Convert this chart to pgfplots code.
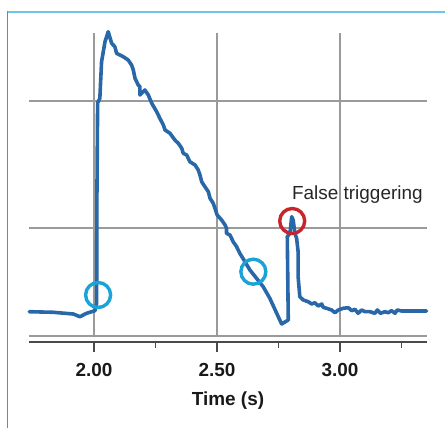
\documentclass[border=0pt]{standalone}
\usepackage{fontspec}
\setmainfont{Liberation Sans}
\usepackage{pgfplots}
\pgfplotsset{compat=1.18}
\definecolor{curve}{HTML}{2868A8}
\definecolor{cyanc}{HTML}{1AA3D6}
\definecolor{redc}{HTML}{C8242B}
\definecolor{framel}{HTML}{2A9FD8}
\definecolor{framet}{HTML}{70C4EC}
\definecolor{gridc}{HTML}{9A9A9A}
\definecolor{axisc}{HTML}{4A4A4A}
\begin{document}
\begin{tikzpicture}
\useasboundingbox (0,0) rectangle (445bp,428bp);
\draw[framet, line width=1.8bp] (7.3bp,416.3bp) -- (460bp,416.3bp);
\draw[framel, line width=1.3bp] (7.3bp,-5bp) -- (7.3bp,417.2bp);
\begin{axis}[
  at={(29bp,86bp)}, anchor=south west,
  width=398bp, height=309bp, scale only axis,
  xmin=1.736, xmax=3.354, ymin=0, ymax=309,
  axis x line=bottom, axis y line=none,
  x axis line style={-, line width=1.8bp, color=axisc},
  xtick={2,2.5,3}, minor xtick={2.25,2.75,3.25},
  xticklabels={2.00,2.50,3.00},
  tick align=outside,
  major tick length=10bp, minor tick length=6bp,
  every tick/.style={axisc, line width=1.2bp},
  /pgf/number format/assume math mode=true,
  xticklabel style={font=\fontsize{19}{22}\selectfont\bfseries, text=black!90, yshift=-8bp},
  xlabel={Time (s)},
  xlabel style={font=\fontsize{19}{22}\selectfont\bfseries, text=black!90, at={(axis description cs:0.5,0)}, anchor=base, yshift=-63bp},
  clip=false,
]
% grid
\addplot[gridc, line width=1.3bp, forget plot] coordinates {(1.736,241) (3.354,241)};
\addplot[gridc, line width=1.3bp, forget plot] coordinates {(1.736,114) (3.354,114)};
\addplot[gridc, line width=1.3bp, forget plot] coordinates {(1.736,6) (3.354,6)};
\addplot[gridc, line width=1.3bp, forget plot] coordinates {(2.0,6) (2.0,309)};
\addplot[gridc, line width=1.3bp, forget plot] coordinates {(2.5,6) (2.5,309)};
\addplot[gridc, line width=1.3bp, forget plot] coordinates {(3.0,6) (3.0,309)};
% signal
\addplot[curve, line width=3.6bp, line join=round, line cap=round] coordinates {
(1.737,30.3) (1.835,29.7) (1.916,28) (1.943,25.3) (1.970,28.7) (2.004,31.3)
(2.011,38.7) (2.012,142) (2.015,239) (2.024,243.7) (2.031,280.3) (2.038,290.3)
(2.045,300.3) (2.058,310.3) (2.072,298.7) (2.085,295.3) (2.092,288.7) (2.119,285.3)
(2.139,282) (2.153,277) (2.160,272) (2.167,263.7) (2.180,257) (2.187,255.3)
(2.187,247) (2.207,252) (2.221,247) (2.235,238.7) (2.255,230.3) (2.268,223.7)
(2.282,217) (2.289,212) (2.309,208.7) (2.329,202) (2.343,198.7) (2.357,193.7)
(2.363,188.7) (2.377,187) (2.390,180.3) (2.411,177) (2.424,172) (2.431,167)
(2.438,160.3) (2.451,155.3) (2.465,150.3) (2.472,143.7) (2.485,138.7) (2.492,133.7)
(2.501,127) (2.519,122) (2.533,117) (2.539,113.7) (2.539,108.7) (2.553,107)
(2.566,100.3) (2.580,95.3) (2.593,88.7) (2.614,80.3) (2.634,72) (2.661,63.7)
(2.688,55.3) (2.715,43.7) (2.743,28.7) (2.763,18) (2.790,22) (2.786,105.3)
(2.797,108.7) (2.804,125.3) (2.810,122) (2.817,108.7) (2.824,103.7) (2.830,90.3)
(2.830,65.3) (2.837,45.3) (2.851,42) (2.871,40.3) (2.885,38) (2.898,39.3)
(2.912,36) (2.926,38) (2.932,34.7) (2.946,33.7) (2.966,32) (2.980,29.3)
(2.993,32) (3.013,33.7) (3.034,34.3) (3.048,31.3) (3.061,32.7) (3.074,28.7)
(3.088,32) (3.102,30.3) (3.122,30.3) (3.142,28.7) (3.152,32) (3.165,28.7)
(3.183,30.3) (3.196,29.3) (3.210,31.3) (3.224,28.7) (3.233,32) (3.251,31)
(3.352,31)
};
% circles
\addplot[only marks, mark=o, mark size=12.5bp, mark options={cyanc, line width=3.4bp}] coordinates {(2.017,47) (2.648,70.3)};
\addplot[only marks, mark=o, mark size=12.5bp, mark options={redc, line width=3.4bp}] coordinates {(2.806,121)};
\node[anchor=west, inner sep=0pt, font=\fontsize{19}{22}\selectfont, text=black!85] at (axis cs:2.805,147) {False triggering};
\end{axis}
\end{tikzpicture}
\end{document}
